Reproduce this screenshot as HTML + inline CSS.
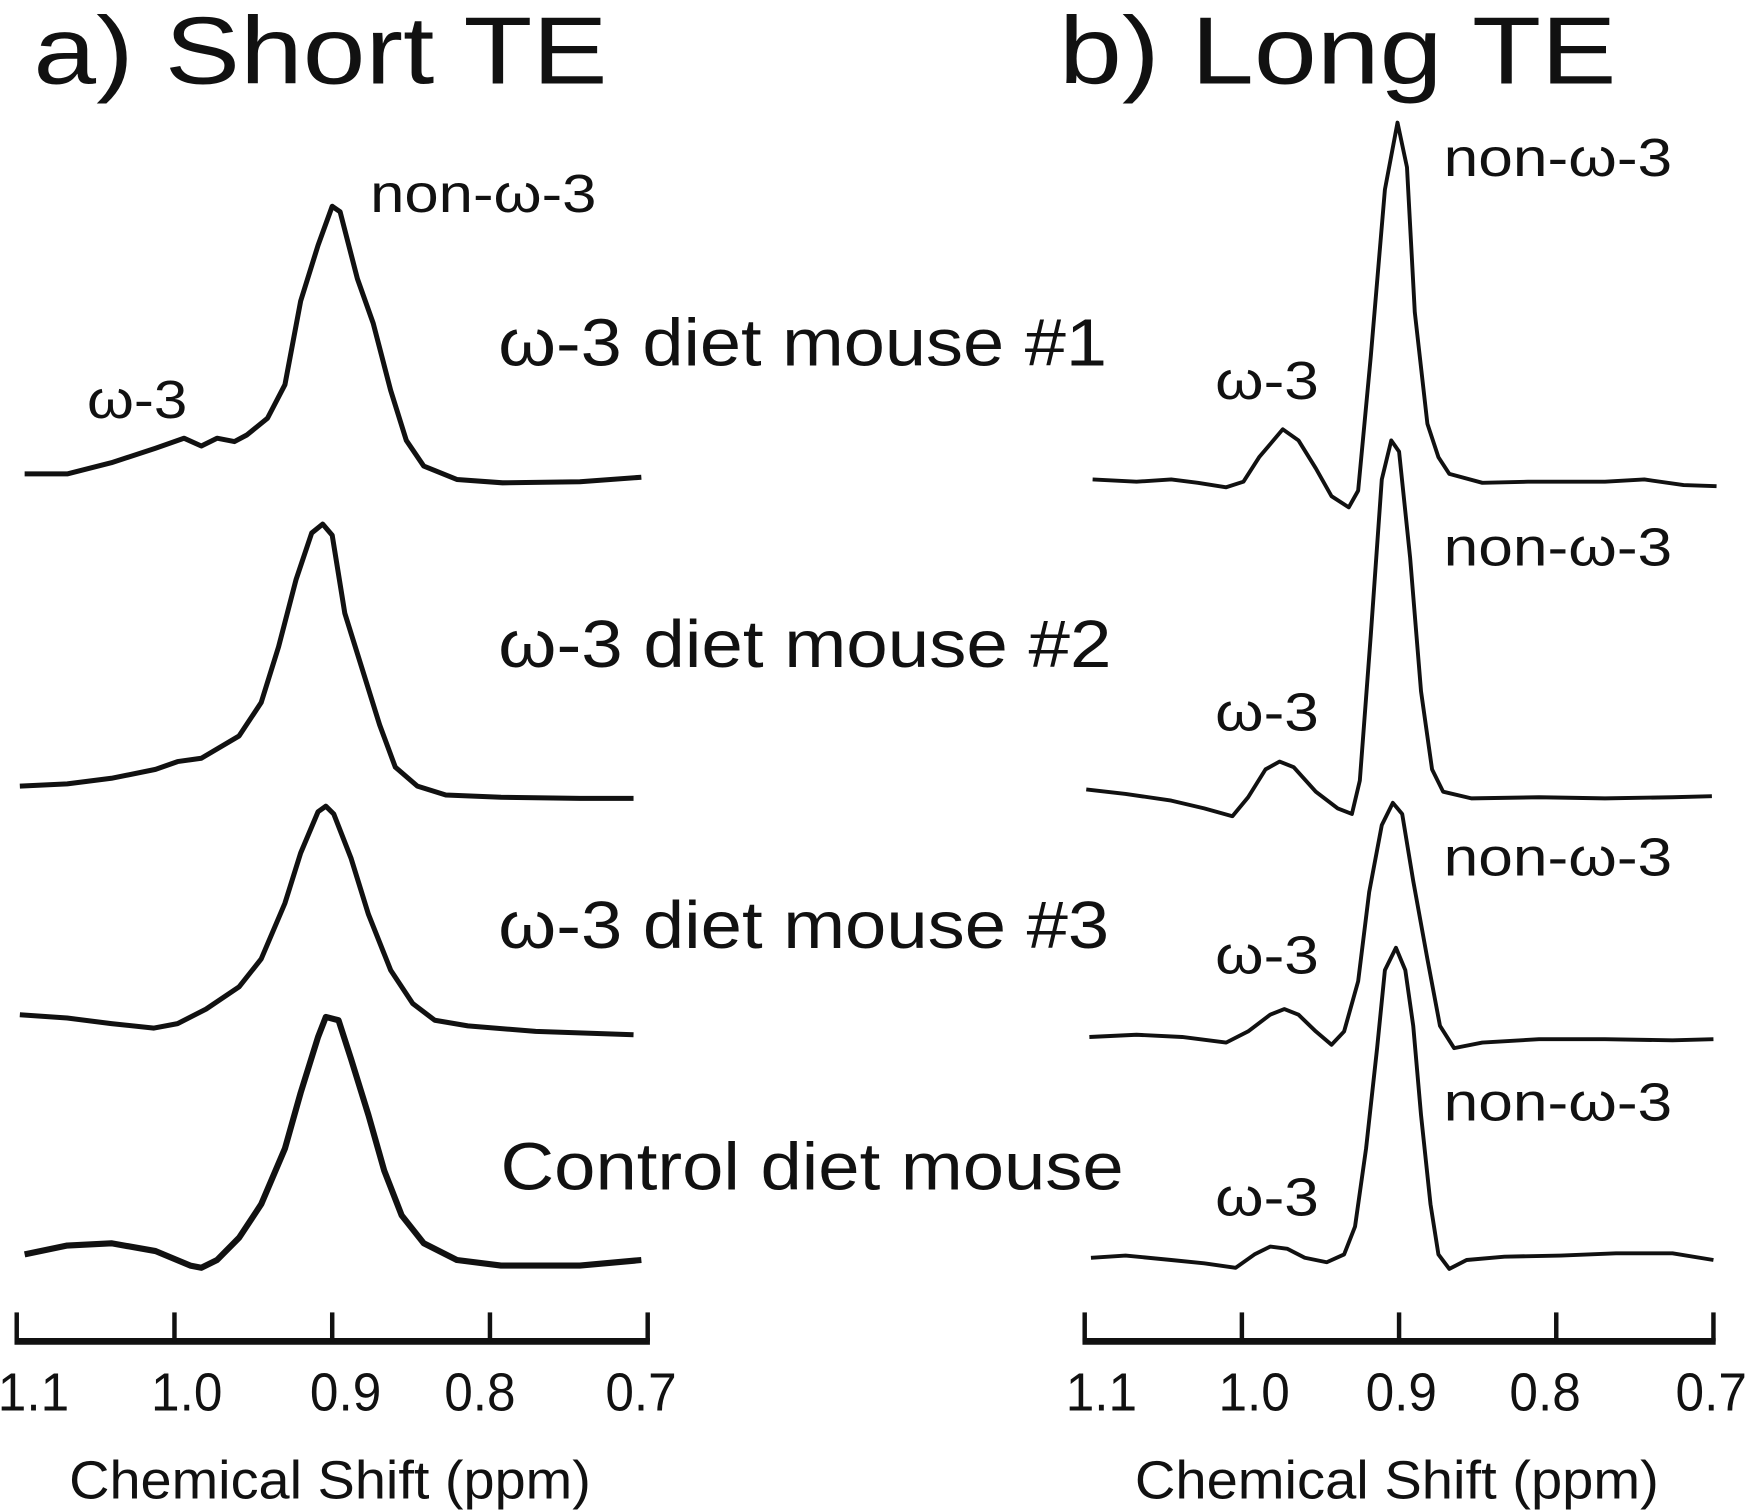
<!DOCTYPE html>
<html><head><meta charset="utf-8"><style>
html,body{margin:0;padding:0;background:#fff;}
svg{display:block;}
text{font-family:"Liberation Sans",sans-serif;fill:#111;}
</style></head><body>
<svg id="chart" width="1748" height="1512" viewBox="0 0 1568 1356" preserveAspectRatio="none" xmlns="http://www.w3.org/2000/svg">
<g id="static">
<text x="30" y="75" font-size="86" textLength="515" lengthAdjust="spacingAndGlyphs">a) Short TE</text>
<text x="950" y="75" font-size="86" textLength="500" lengthAdjust="spacingAndGlyphs">b) Long TE</text>
<text x="332" y="190" font-size="48" textLength="203" lengthAdjust="spacingAndGlyphs">non-ω-3</text>
<text x="78" y="375" font-size="48" textLength="90" lengthAdjust="spacingAndGlyphs">ω-3</text>
<text x="447" y="328" font-size="60" textLength="546" lengthAdjust="spacingAndGlyphs">ω-3 diet mouse #1</text>
<text x="447" y="598" font-size="60" textLength="550" lengthAdjust="spacingAndGlyphs">ω-3 diet mouse #2</text>
<text x="447" y="850" font-size="60" textLength="548" lengthAdjust="spacingAndGlyphs">ω-3 diet mouse #3</text>
<text x="449" y="1067" font-size="60" textLength="559" lengthAdjust="spacingAndGlyphs">Control diet mouse</text>
<text x="1295" y="158" font-size="48" textLength="205" lengthAdjust="spacingAndGlyphs">non-ω-3</text>
<text x="1295" y="507" font-size="48" textLength="205" lengthAdjust="spacingAndGlyphs">non-ω-3</text>
<text x="1295" y="785" font-size="48" textLength="205" lengthAdjust="spacingAndGlyphs">non-ω-3</text>
<text x="1295" y="1005" font-size="48" textLength="205" lengthAdjust="spacingAndGlyphs">non-ω-3</text>
<text x="1090" y="358" font-size="48" textLength="93" lengthAdjust="spacingAndGlyphs">ω-3</text>
<text x="1090" y="655" font-size="48" textLength="93" lengthAdjust="spacingAndGlyphs">ω-3</text>
<text x="1090" y="873" font-size="48" textLength="93" lengthAdjust="spacingAndGlyphs">ω-3</text>
<text x="1090" y="1090" font-size="48" textLength="93" lengthAdjust="spacingAndGlyphs">ω-3</text>
<text x="62" y="1344" font-size="48" textLength="468" lengthAdjust="spacingAndGlyphs">Chemical Shift (ppm)</text>
<text x="1018" y="1344" font-size="48" textLength="470" lengthAdjust="spacingAndGlyphs">Chemical Shift (ppm)</text>
</g>
<g id="plot"></g>
</svg>
<script>
// Tick values
const tickVals = [1.1, 1.0, 0.9, 0.8, 0.7];
const tickLabels = ["1.1", "1.0", "0.9", "0.8", "0.7"];

// Short TE spectra (ppm, intensity)
const sPpm1 = [1.095,1.068,1.040,1.012,0.994,0.983,0.973,0.962,0.954,0.941,0.930,0.920,0.909,0.900,0.895,0.884,0.874,0.863,0.853,0.842,0.821,0.792,0.743,0.704];
const sInt1 = [5,5,15,28,37,30,37,34,40,55,85,160,210,245,240,180,140,80,35,12,0,-3,-2,2];
const sPpm2 = [1.098,1.068,1.040,1.012,0.998,0.983,0.959,0.945,0.934,0.923,0.913,0.906,0.900,0.892,0.881,0.870,0.860,0.846,0.828,0.793,0.743,0.709];
const sInt2 = [10,12,17,25,32,35,55,85,135,195,237,245,235,165,115,65,27,10,2,0,-1,-1];
const sPpm3 = [1.098,1.068,1.040,1.013,0.998,0.980,0.959,0.945,0.930,0.920,0.909,0.904,0.899,0.888,0.877,0.863,0.849,0.835,0.814,0.771,0.709];
const sInt3 = [18,15,10,6,10,23,43,68,118,163,200,205,198,158,108,58,28,13,8,3,0];
const sPpm4 = [1.095,1.068,1.040,1.012,0.990,0.983,0.973,0.959,0.945,0.930,0.920,0.909,0.904,0.896,0.888,0.877,0.867,0.856,0.842,0.821,0.793,0.743,0.704];
const sInt4 = [10,18,20,13,0,-2,5,25,55,105,155,205,223,220,185,135,85,45,20,5,0,0,5];

// Long TE spectra
const lPpm1 = [1.095,1.067,1.045,1.028,1.010,0.999,0.989,0.974,0.964,0.953,0.943,0.932,0.926,0.918,0.909,0.901,0.895,0.890,0.882,0.875,0.868,0.847,0.818,0.790,0.769,0.744,0.719,0.698];
const lInt1 = [3,1,3,0,-4,1,23,48,38,13,-12,-22,-7,113,263,323,283,153,53,23,8,0,1,1,1,3,-2,-3];
const lPpm2 = [1.099,1.074,1.045,1.024,1.006,0.996,0.985,0.976,0.967,0.953,0.939,0.930,0.925,0.918,0.911,0.905,0.900,0.893,0.886,0.879,0.872,0.854,0.811,0.769,0.726,0.701];
const lInt2 = [7,3,-3,-10,-17,0,25,32,27,5,-10,-15,15,145,285,320,310,215,95,25,5,-1,0,-1,0,1];
const lPpm3 = [1.097,1.067,1.038,1.010,0.996,0.982,0.973,0.964,0.953,0.943,0.935,0.926,0.919,0.911,0.904,0.898,0.891,0.882,0.874,0.865,0.847,0.811,0.769,0.726,0.700];
const lInt3 = [2,4,2,-3,7,22,27,22,7,-5,7,52,132,192,212,202,142,72,12,-8,-3,0,0,-1,0];
const lPpm4 = [1.096,1.074,1.045,1.024,1.004,0.992,0.982,0.971,0.960,0.946,0.935,0.928,0.921,0.914,0.909,0.902,0.896,0.891,0.886,0.880,0.875,0.868,0.857,0.833,0.797,0.762,0.726,0.700];
const lInt4 = [2,4,0,-3,-7,5,12,10,2,-2,5,30,100,190,260,280,260,210,130,50,5,-8,0,3,4,6,6,0];

const NS = "http://www.w3.org/2000/svg";
const plot = document.getElementById("plot");

function xLeft(p){ return 15 + (1.1 - p) / 0.4 * 566; }
function xRight(p){ return 973 + (1.1 - p) / 0.4 * 564; }
function yScale(base, v){ return base - v; }

function drawTrace(ppm, ints, xf, base, sw, name){
  let d = "";
  for (let i = 0; i < ppm.length; i++){
    d += (i ? "L" : "M") + xf(ppm[i]).toFixed(1) + "," + yScale(base, ints[i]).toFixed(1);
  }
  const p = document.createElementNS(NS, "path");
  p.setAttribute("d", d);
  p.setAttribute("fill", "none");
  p.setAttribute("stroke", "#111");
  p.setAttribute("stroke-width", sw);
  p.setAttribute("stroke-linejoin", "round");
  
  
  plot.appendChild(p);
}

drawTrace(sPpm1, sInt1, xLeft, 430, 4.5, "short-te-mouse1-spectrum");
drawTrace(sPpm2, sInt2, xLeft, 715, 4.5, "short-te-mouse2-spectrum");
drawTrace(sPpm3, sInt3, xLeft, 928, 4.5, "short-te-mouse3-spectrum");
drawTrace(sPpm4, sInt4, xLeft, 1135, 5.5, "short-te-control-spectrum");
drawTrace(lPpm1, lInt1, xRight, 433, 3.5, "long-te-mouse1-spectrum");
drawTrace(lPpm2, lInt2, xRight, 715, 3.5, "long-te-mouse2-spectrum");
drawTrace(lPpm3, lInt3, xRight, 932, 3.5, "long-te-mouse3-spectrum");
drawTrace(lPpm4, lInt4, xRight, 1130, 3.5, "long-te-control-spectrum");

function drawAxis(xf, side, labelOffsets){
  const g = document.createElementNS(NS, "g");
  
  
  const base = document.createElementNS(NS, "line");
  base.setAttribute("x1", xf(tickVals[0]) - 2);
  base.setAttribute("x2", xf(tickVals[tickVals.length-1]) + 2);
  base.setAttribute("y1", 1203); base.setAttribute("y2", 1203);
  base.setAttribute("stroke", "#111"); base.setAttribute("stroke-width", 6);
  
  
  g.appendChild(base);
  tickVals.forEach((v, i) => {
    const t = document.createElementNS(NS, "line");
    t.setAttribute("x1", xf(v)); t.setAttribute("x2", xf(v));
    t.setAttribute("y1", 1177); t.setAttribute("y2", 1203);
    t.setAttribute("stroke", "#111"); t.setAttribute("stroke-width", 4);
    
    
    g.appendChild(t);
    const tx = document.createElementNS(NS, "text");
    tx.setAttribute("x", xf(v) + labelOffsets[i]);
    tx.setAttribute("y", 1265);
    tx.setAttribute("font-size", 48);
    tx.setAttribute("text-anchor", "middle");
    tx.setAttribute("textLength", 64);
    tx.setAttribute("lengthAdjust", "spacingAndGlyphs");
    tx.textContent = tickLabels[i];
    
    
    g.appendChild(tx);
  });
  plot.appendChild(g);
}
drawAxis(xLeft, "left", [15, 11, 12, -9, -6]);
drawAxis(xRight, "right", [15, 11, 2, -10, -2]);
</script>
</body></html>
